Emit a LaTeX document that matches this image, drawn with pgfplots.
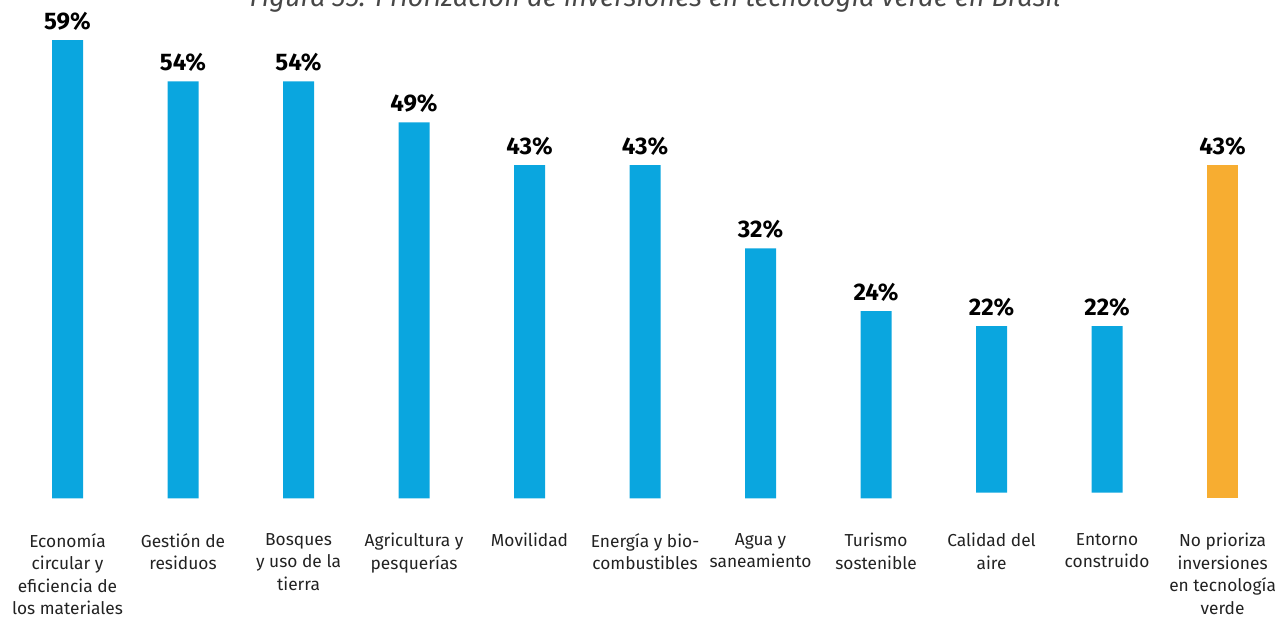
\documentclass[border=0pt]{standalone}
\usepackage{fontspec}
\setmainfont{Fira Sans}
\usepackage{pgfplots}
\pgfplotsset{compat=1.18}
\definecolor{barblue}{HTML}{0AA6DF}
\definecolor{barorange}{HTML}{F7AD31}
\definecolor{labtext}{HTML}{222222}
\pgfplotsset{
  common/.style={
    at={(0,0)}, anchor=south west,
    scale only axis,
    width=964.5pt, height=400.5pt,
    xmin=-0.5844, xmax=10.549,
    ymin=-4.57, ymax=64.16,
    clip=false,
    bar width=23.25pt,
  }
}
\begin{document}
\begin{tikzpicture}
\begin{axis}[
  common,
  name=ax,
  axis line style={draw=none},
  ytick=\empty,
  xtick={0,...,10},
  major tick length=0pt,
  xticklabels={{Economía\\circular y\\eficiencia de\\los materiales},
    {Gestión de\\residuos},
    {Bosques\\y uso de la\\tierra},
    {Agricultura y\\pesquerías},
    {Movilidad},
    {Energía y bio-\\combustibles},
    {Agua y\\saneamiento},
    {Turismo\\sostenible},
    {Calidad del\\aire},
    {Entorno\\construido},
    {No prioriza\\inversiones\\en tecnología\\verde}},
  xticklabel style={align=center, anchor=north, inner sep=0pt, yshift=0.75pt,
    font=\fontsize{13}{16.9}\selectfont, text=labtext},
  ybar stacked,
]
% bar bases
\addplot[draw=none, fill=none] coordinates {
  (0,0) (1,0) (2,0) (3,0) (4,0) (5,0) (6,0) (7,0) (8,0.77) (9,0.77) (10,0)};
% blue bars (heights above base)
\addplot[draw=none, fill=barblue] coordinates {
  (0,59) (1,53.7) (2,53.7) (3,48.4) (4,42.9) (5,42.9)
  (6,32.2) (7,24.1) (8,21.43) (9,21.43) (10,0)};
% orange bar
\addplot[draw=none, fill=barorange] coordinates {
  (0,0) (1,0) (2,0) (3,0) (4,0) (5,0) (6,0) (7,0) (8,0) (9,0) (10,42.9)};
\node[anchor=base, inner sep=0pt, text=black!72, font=\fontsize{20.3}{22}\selectfont\itshape]
  at (axis cs:5.087,63.26) {Figura 35: Priorización de inversiones en tecnología verde en Brasil};
\coordinate (bl) at (axis cs:-0.5844,-15.64);
\coordinate (tr) at (axis cs:10.549,64.16);
\end{axis}
% value labels at the bar tops
\begin{axis}[
  common,
  hide axis,
  ybar,
  bar shift=0pt,
  nodes near coords,
  point meta=explicit symbolic,
  every node near coord/.append style={font=\fontsize{18}{20}\selectfont\bfseries,
    text=black, anchor=base, inner sep=0pt, yshift=8.25pt},
]
\addplot[draw=none, fill=none] coordinates {
  (0,59) [59\%] (1,53.7) [54\%] (2,53.7) [54\%] (3,48.4) [49\%] (4,42.9) [43\%] (5,42.9) [43\%]
  (6,32.2) [32\%] (7,24.1) [24\%] (8,22.2) [22\%] (9,22.2) [22\%] (10,42.9) [43\%]};
\end{axis}
\pgfresetboundingbox
\useasboundingbox (bl) rectangle (tr);
\end{tikzpicture}
\end{document}
